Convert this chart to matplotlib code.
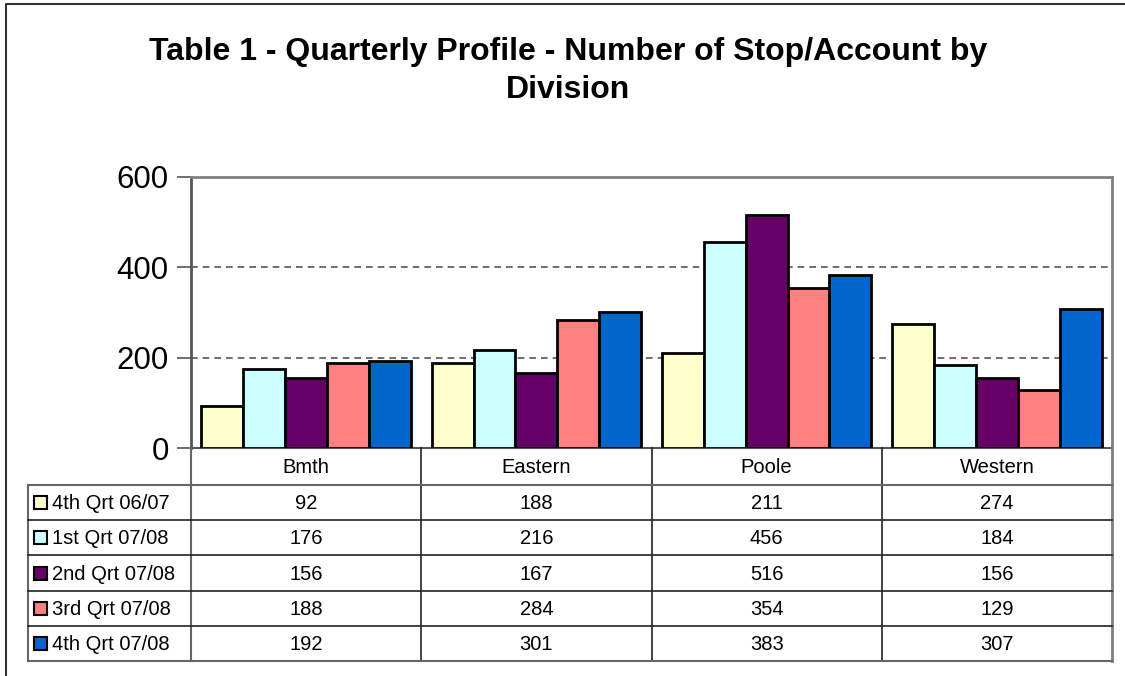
import matplotlib
matplotlib.use("Agg")
import matplotlib.pyplot as plt
from matplotlib.patches import Rectangle
import numpy as np

plt.rcParams['font.family'] = ['Liberation Sans', 'DejaVu Sans']

title = "Table 1 - Quarterly Profile - Number of Stop/Account by\nDivision"
categories = ["Bmth", "Eastern", "Poole", "Western"]
series_names = ["4th Qrt 06/07", "1st Qrt 07/08", "2nd Qrt 07/08", "3rd Qrt 07/08", "4th Qrt 07/08"]
q4_0607 = [92, 188, 211, 274]
q1_0708 = [176, 216, 456, 184]
q2_0708 = [156, 167, 516, 156]
q3_0708 = [188, 284, 354, 129]
q4_0708 = [192, 301, 383, 307]
series_values = [q4_0607, q1_0708, q2_0708, q3_0708, q4_0708]
colors = ["#FFFFCC", "#CCFFFF", "#660066", "#FF8080", "#0066CC"]
yticks = [0, 200, 400, 600]

W, H = 1125, 676
fig = plt.figure(figsize=(W / 100, H / 100), dpi=100)

# pixel layout
px_left, px_right, px_top, px_bottom = 191, 1112, 177, 448
ax = fig.add_axes([px_left / W, 1 - px_bottom / H, (px_right - px_left) / W, (px_bottom - px_top) / H])

n = len(series_values)
bw = 1 / (n + 0.5)
x = np.arange(len(categories)) + 0.5
for i, (vals, c) in enumerate(zip(series_values, colors)):
    ax.bar(x + (i - (n - 1) / 2) * bw, vals, width=bw, color=c, edgecolor="black", linewidth=2, zorder=3)

ax.set_xlim(0, len(categories))
ax.set_ylim(0, 600)
ax.set_yticks(yticks)
ax.set_yticklabels([str(t) for t in yticks], fontsize=22.5)
ax.set_xticks([])
for t in [200, 400]:
    ax.axhline(t, color="#555555", linestyle=(0, (4, 3)), linewidth=1.2, zorder=1)
for s in ["top", "right"]:
    ax.spines[s].set_color("#808080")
    ax.spines[s].set_linewidth(2)
ax.spines["left"].set_color("#555555")
ax.spines["left"].set_linewidth(2)
ax.spines["bottom"].set_color("#555555")
ax.spines["bottom"].set_linewidth(1.5)
ax.tick_params(axis="y", length=10, width=1.2, color="#555555", pad=6)

# overlay for table and frame
ov = fig.add_axes([0, 0, 1, 1], zorder=5)
ov.set_xlim(0, W)
ov.set_ylim(H, 0)
ov.axis("off")
ov.patch.set_alpha(0)

# outer frame
ov.plot([6, 6, 1124], [H + 5, 4, 4], color="#333333", linewidth=1.5)

fig.text(568 / W, 1 - 71 / H, title, ha="center", va="center", fontsize=23, fontweight="bold", linespacing=1.35)

tbl_left = 28
header_top, header_bot = 448, 485
row_h = 35.2
nrows = len(series_names)
bottom = header_bot + nrows * row_h
colw = (px_right - px_left) / len(categories)

line_kw = dict(color="#222222", linewidth=1.2)
# vertical lines
ov.plot([px_left, px_left], [header_top, bottom], color="#666666", linewidth=1.5)
for j in range(1, len(categories)):
    xx = px_left + j * colw
    ov.plot([xx, xx], [header_top, bottom], **line_kw)
ov.plot([px_right, px_right], [header_top, bottom], color="#808080", linewidth=2)
ov.plot([tbl_left, tbl_left], [header_bot, bottom], color="#666666", linewidth=1.5)
# horizontal lines
for r in range(nrows + 1):
    yy = header_bot + r * row_h
    c = "#666666" if r in (0, nrows) else "#222222"
    ov.plot([tbl_left, px_right], [yy, yy], color=c, linewidth=1.5 if r in (0, nrows) else 1.2)

fs = 14.5
for j, cat in enumerate(categories):
    ov.text(px_left + (j + 0.5) * colw, (header_top + header_bot) / 2 + 1, cat,
            ha="center", va="center", fontsize=fs)
for r, (name, vals, c) in enumerate(zip(series_names, series_values, colors)):
    yc = header_bot + (r + 0.5) * row_h
    ov.add_patch(Rectangle((34, yc - 6.5), 13, 13, facecolor=c, edgecolor="black", linewidth=1.5))
    ov.text(52, yc + 1, name, ha="left", va="center", fontsize=fs)
    for j, v in enumerate(vals):
        ov.text(px_left + (j + 0.5) * colw, yc + 1, str(v), ha="center", va="center", fontsize=fs)

fig.savefig("out.png", dpi=100)
